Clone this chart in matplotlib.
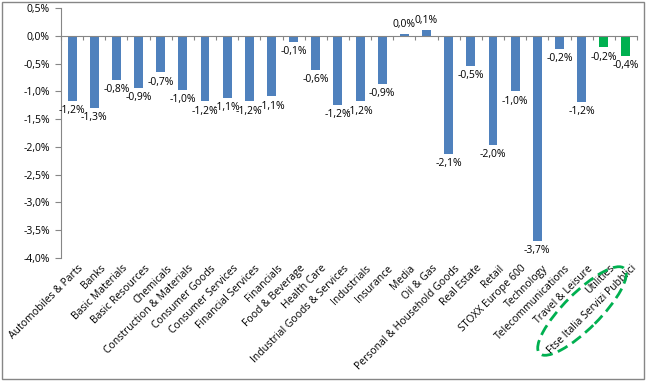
import numpy as np
import matplotlib.pyplot as plt
import matplotlib.transforms as mtransforms
from matplotlib.patches import Ellipse, Rectangle

# sector performance (in %)
sectors = ["Automobiles & Parts", "Banks", "Basic Materials", "Basic Resources", "Chemicals",
           "Construction & Materials", "Consumer Goods", "Consumer Services", "Financial Services",
           "Financials", "Food & Beverage", "Health Care", "Industrial Goods & Services",
           "Industrials", "Insurance", "Media", "Oil & Gas", "Personal & Household Goods",
           "Real Estate", "Retail", "STOXX Europe 600", "Technology", "Telecommunications",
           "Travel & Leisure", "Utilities", "Ftse Italia Servizi Pubblici"]
values = [-1.17, -1.30, -0.79, -0.94, -0.66, -0.98, -1.18, -1.12, -1.18, -1.09, -0.11, -0.61,
          -1.24, -1.18, -0.86, 0.03, 0.11, -2.13, -0.54, -1.97, -1.00, -3.69, -0.23, -1.19,
          -0.21, -0.36]
highlight = ["Utilities", "Ftse Italia Servizi Pubblici"]

blue = "#4F81BD"
green = "#00B050"
grey = "#868686"

plt.rcParams['font.family'] = ['Open Sans', 'DejaVu Sans']

fig = plt.figure(figsize=(6.46, 3.81), dpi=100)
ax = fig.add_axes([61 / 646, 1 - 258 / 381, 576 / 646, 250 / 381])

x = np.arange(len(sectors))
colors = [green if s in highlight else blue for s in sectors]
ax.bar(x, values, width=0.4, color=colors, zorder=2)

# data labels
for xi, v in zip(x, values):
    lab = ("%.1f%%" % v).replace(".", ",")
    if v < 0:
        ax.annotate(lab, (xi, v), xytext=(0, -3), textcoords="offset points",
                    ha="center", va="top", fontsize=7.5)
    else:
        ax.annotate(lab, (xi, v), xytext=(0, 3), textcoords="offset points",
                    ha="center", va="bottom", fontsize=7.5)

ax.set_xlim(-0.5, len(sectors) - 0.5)
ax.set_ylim(-4.0, 0.5)
yt = np.arange(-4.0, 0.51, 0.5)
ax.set_yticks(yt)
ax.set_yticklabels([("%.1f%%" % t).replace(".", ",").replace("-0,0", "0,0") for t in yt],
                   fontsize=7.5)
ax.tick_params(axis="y", direction="out", length=4, color=grey, pad=4)

# category axis sits on the zero line
ax.spines["bottom"].set_position(("data", 0))
ax.spines["bottom"].set_color(grey)
ax.spines["left"].set_color(grey)
ax.spines["top"].set_visible(False)
ax.spines["right"].set_visible(False)
ax.set_xticks(np.arange(-0.5, len(sectors), 1.0))
ax.set_xticklabels([])
ax.tick_params(axis="x", direction="out", length=3, color=grey)

trans = mtransforms.blended_transform_factory(ax.transData, ax.transAxes)
for xi, s in zip(x, sectors):
    ax.text(xi + 0.25, -0.02, s, transform=trans, rotation=45, rotation_mode="anchor",
            ha="right", va="top", fontsize=7.5)

# dashed ellipse around the highlighted labels (figure pixels)
ell = Ellipse((582, 70), 120, 36, angle=45, fill=False, edgecolor=green,
              linestyle=(0, (4, 2)), linewidth=2, transform=None)
fig.patches.append(ell)

# outer chart border
fig.patches.append(Rectangle((0.003, 0.005), 0.994, 0.99, transform=fig.transFigure,
                             fill=False, edgecolor=grey, linewidth=1))

fig.savefig("out.png", dpi=100)
